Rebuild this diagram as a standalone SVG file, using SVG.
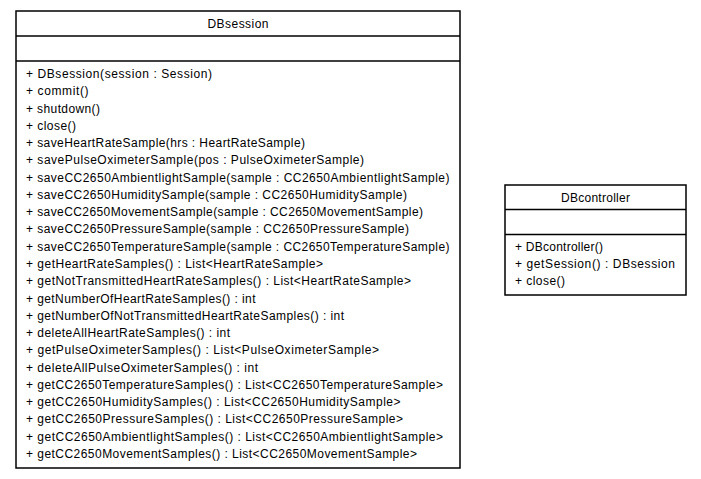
<svg xmlns="http://www.w3.org/2000/svg" width="701" height="479" viewBox="0 0 701 479">
  <style>
    .box { fill: #fff; stroke: #000; stroke-width: 1.5; }
    .sep { stroke: #000; stroke-width: 1.5; }
    .t { font-family: "Liberation Sans", Arial, sans-serif; font-size: 12px; fill: #000; }
    .title { text-anchor: middle; }
  </style>
  <rect width="701" height="479" fill="#fff"/>

  <g id="DBsession">
    <rect class="box" x="16" y="11" width="444" height="457"/>
    <line class="sep" x1="16" y1="36" x2="460" y2="36"/>
    <line class="sep" x1="16" y1="61" x2="460" y2="61"/>
    <text class="t title" x="238" y="28" textLength="61" lengthAdjust="spacing">DBsession</text>
    <g class="t" lengthAdjust="spacing">
      <text x="26" y="78" textLength="186" lengthAdjust="spacing">+ DBsession(session : Session)</text>
      <text x="26" y="95.3" textLength="62.5" lengthAdjust="spacing">+ commit()</text>
      <text x="26" y="112.5" textLength="74" lengthAdjust="spacing">+ shutdown()</text>
      <text x="26" y="129.8" textLength="50" lengthAdjust="spacing">+ close()</text>
      <text x="26" y="147.1" textLength="279" lengthAdjust="spacing">+ saveHeartRateSample(hrs : HeartRateSample)</text>
      <text x="26" y="164.4" textLength="338" lengthAdjust="spacing">+ savePulseOximeterSample(pos : PulseOximeterSample)</text>
      <text x="26" y="181.6" textLength="423.5" lengthAdjust="spacing">+ saveCC2650AmbientlightSample(sample : CC2650AmbientlightSample)</text>
      <text x="26" y="198.9" textLength="381" lengthAdjust="spacing">+ saveCC2650HumiditySample(sample : CC2650HumiditySample)</text>
      <text x="26" y="216.2" textLength="397" lengthAdjust="spacing">+ saveCC2650MovementSample(sample : CC2650MovementSample)</text>
      <text x="26" y="233.4" textLength="383" lengthAdjust="spacing">+ saveCC2650PressureSample(sample : CC2650PressureSample)</text>
      <text x="26" y="250.7" textLength="423.5" lengthAdjust="spacing">+ saveCC2650TemperatureSample(sample : CC2650TemperatureSample)</text>
      <text x="26" y="268" textLength="297" lengthAdjust="spacing">+ getHeartRateSamples() : List&lt;HeartRateSample&gt;</text>
      <text x="26" y="285.2" textLength="385" lengthAdjust="spacing">+ getNotTransmittedHeartRateSamples() : List&lt;HeartRateSample&gt;</text>
      <text x="26" y="302.5" textLength="229.5" lengthAdjust="spacing">+ getNumberOfHeartRateSamples() : int</text>
      <text x="26" y="319.8" textLength="318" lengthAdjust="spacing">+ getNumberOfNotTransmittedHeartRateSamples() : int</text>
      <text x="26" y="337" textLength="204" lengthAdjust="spacing">+ deleteAllHeartRateSamples() : int</text>
      <text x="26" y="354.3" textLength="353" lengthAdjust="spacing">+ getPulseOximeterSamples() : List&lt;PulseOximeterSample&gt;</text>
      <text x="26" y="371.6" textLength="232" lengthAdjust="spacing">+ deleteAllPulseOximeterSamples() : int</text>
      <text x="26" y="388.9" textLength="417" lengthAdjust="spacing">+ getCC2650TemperatureSamples() : List&lt;CC2650TemperatureSample&gt;</text>
      <text x="26" y="406.1" textLength="374.5" lengthAdjust="spacing">+ getCC2650HumiditySamples() : List&lt;CC2650HumiditySample&gt;</text>
      <text x="26" y="423.4" textLength="377" lengthAdjust="spacing">+ getCC2650PressureSamples() : List&lt;CC2650PressureSample&gt;</text>
      <text x="26" y="440.7" textLength="417" lengthAdjust="spacing">+ getCC2650AmbientlightSamples() : List&lt;CC2650AmbientlightSample&gt;</text>
      <text x="26" y="458" textLength="391" lengthAdjust="spacing">+ getCC2650MovementSamples() : List&lt;CC2650MovementSample&gt;</text>
    </g>
  </g>

  <g id="DBcontroller">
    <rect class="box" x="505" y="185" width="181" height="110"/>
    <line class="sep" x1="505" y1="209.5" x2="686" y2="209.5"/>
    <line class="sep" x1="505" y1="234.5" x2="686" y2="234.5"/>
    <text class="t title" x="595.5" y="202" textLength="69" lengthAdjust="spacing">DBcontroller</text>
    <g class="t">
      <text x="515" y="250.5" textLength="88" lengthAdjust="spacing">+ DBcontroller()</text>
      <text x="515" y="267.8" textLength="160" lengthAdjust="spacing">+ getSession() : DBsession</text>
      <text x="515" y="285" textLength="50" lengthAdjust="spacing">+ close()</text>
    </g>
  </g>

  <g id="connectors"/>
</svg>
